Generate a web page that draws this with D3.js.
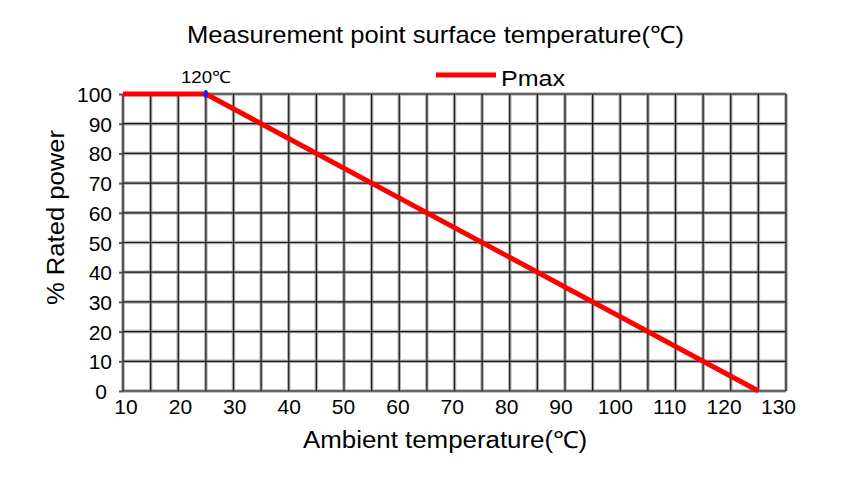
<!DOCTYPE html>
<html>
<head>
<meta charset="utf-8">
<script src="https://cdn.jsdelivr.net/npm/d3@7"></script>
<style>
  body { margin: 0; background: #fff; }
  text { font-family: "Liberation Sans", Arial, sans-serif; fill: #000; }
</style>
</head>
<body>
<svg id="chart" width="855" height="480"></svg>
<script>
// 데이터
const tempX = [10, 25, 125];
const powerY = [100, 100, 0];
const xTicks = [10, 20, 30, 40, 50, 60, 70, 80, 90, 100, 110, 120, 130];
const yTicks = [0, 10, 20, 30, 40, 50, 60, 70, 80, 90, 100];
const seriesName = "Pmax";
const kneeLabel = "120℃";

const svg = d3.select("#chart");
const margin = { top: 94, right: 69, bottom: 89, left: 123 };
const width = 855 - margin.left - margin.right;
const height = 480 - margin.top - margin.bottom;

const g = svg.append("g").attr("transform", `translate(${margin.left},${margin.top})`);

const x = d3.scaleLinear().domain([10, 130]).range([0, width]);
const y = d3.scaleLinear().domain([0, 100]).range([height, 0]);
// 눈금 글자는 원본처럼 살짝 안쪽으로 몰려 있음
const xLab = d3.scaleLinear().domain([10, 130]).range([2.5, width - 8]);

// 그리드 (5도 간격 세로, 10% 간격 가로)
const vLines = d3.range(10, 131, 5);
const grid = g.append("g");
[["#b0b0b0", 3.5], ["#1a1a1a", 1.2]].forEach(([c, w]) => {
  grid.selectAll(null).data(vLines).enter().append("line")
    .attr("x1", d => x(d)).attr("x2", d => x(d))
    .attr("y1", 0).attr("y2", height)
    .attr("stroke", c).attr("stroke-width", w);
  grid.selectAll(null).data(yTicks).enter().append("line")
    .attr("x1", 0).attr("x2", width)
    .attr("y1", d => y(d)).attr("y2", d => y(d))
    .attr("stroke", c).attr("stroke-width", w);
});

// 축
const yAxis = g.append("g")
  .call(d3.axisLeft(y).tickValues(yTicks).tickSize(4).tickPadding(7));
yAxis.select(".domain").remove();
yAxis.selectAll("line").attr("stroke", "#555").attr("stroke-width", 2);
yAxis.selectAll("text").style("font-size", "21px").attr("fill", "#000").attr("dy", "0.36em");
yAxis.selectAll(".tick").filter(d => d === 0).select("text").attr("dx", "-5");

const xAxis = g.append("g")
  .attr("transform", `translate(0,${height})`)
  .call(d3.axisBottom(xLab).tickValues(xTicks).tickSize(0).tickPadding(8));
xAxis.select(".domain").remove();
xAxis.selectAll("text").style("font-size", "21px").attr("fill", "#000");

// 선
const pts = tempX.map((t, i) => [t, powerY[i]]);
g.append("path")
  .datum(pts)
  .attr("fill", "none")
  .attr("stroke", "#ff0000")
  .attr("stroke-width", 5)
  .attr("stroke-linejoin", "round")
  .attr("d", d3.line().x(d => x(d[0])).y(d => y(d[1])));

// 꺾이는 점
g.append("ellipse")
  .attr("cx", x(tempX[1])).attr("cy", y(powerY[1]))
  .attr("rx", 2.2).attr("ry", 4)
  .attr("fill", "#1a1aff");

g.append("text")
  .attr("x", x(tempX[1])).attr("y", y(powerY[1]) - 11.5)
  .attr("text-anchor", "middle")
  .attr("textLength", 50)
  .attr("lengthAdjust", "spacingAndGlyphs")
  .style("font-size", "17px")
  .text(kneeLabel);

// 범례
svg.append("line")
  .attr("x1", 436).attr("x2", 496).attr("y1", 75).attr("y2", 75)
  .attr("stroke", "#ff0000").attr("stroke-width", 5);
svg.append("text")
  .attr("x", 501).attr("y", 85.5)
  .attr("textLength", 64)
  .attr("lengthAdjust", "spacingAndGlyphs")
  .style("font-size", "22px")
  .text(seriesName);

// 제목 / 축 제목
svg.append("text")
  .attr("x", 435.5).attr("y", 42.5)
  .attr("text-anchor", "middle")
  .attr("textLength", 497)
  .attr("lengthAdjust", "spacingAndGlyphs")
  .style("font-size", "24px")
  .text("Measurement point surface temperature(℃)");

svg.append("text")
  .attr("x", 445).attr("y", 448)
  .attr("text-anchor", "middle")
  .attr("textLength", 284)
  .attr("lengthAdjust", "spacingAndGlyphs")
  .style("font-size", "23.5px")
  .text("Ambient temperature(℃)");

svg.append("text")
  .attr("transform", "translate(64,217.5) rotate(-90)")
  .attr("text-anchor", "middle")
  .attr("textLength", 175)
  .attr("lengthAdjust", "spacingAndGlyphs")
  .style("font-size", "23.5px")
  .text("% Rated power");
</script>
</body>
</html>
